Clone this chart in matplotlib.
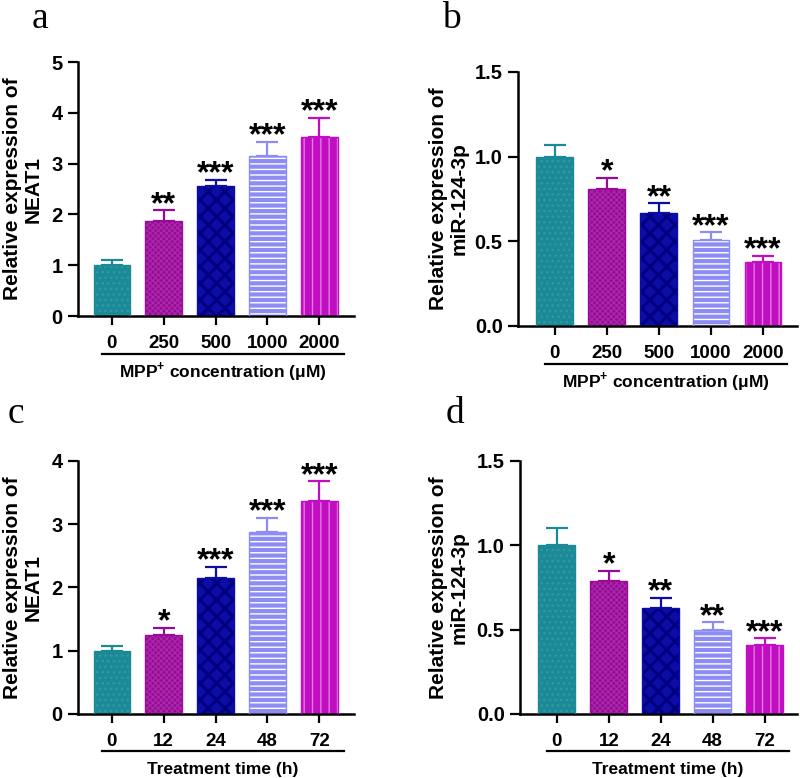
import matplotlib
matplotlib.use('Agg')
import matplotlib.pyplot as plt
import matplotlib.transforms as mtransforms
import numpy as np

plt.rcParams['font.family'] = ['Liberation Sans', 'DejaVu Sans']
plt.rcParams['font.weight'] = 'bold'
plt.rcParams['mathtext.fontset'] = 'custom'
plt.rcParams['mathtext.rm'] = 'Liberation Sans:bold'
plt.rcParams['mathtext.bf'] = 'Liberation Sans:bold'
plt.rcParams['hatch.linewidth'] = 1.0

# data
conc_labels = ['0', '250', '500', '1000', '2000']
time_labels = ['0', '12', '24', '48', '72']

neat1_conc = [1.00, 1.88, 2.55, 3.15, 3.52]
neat1_conc_err = [0.10, 0.20, 0.13, 0.28, 0.38]
neat1_conc_sig = ['', '**', '***', '***', '***']

mir_conc = [1.00, 0.81, 0.67, 0.51, 0.38]
mir_conc_err = [0.07, 0.065, 0.055, 0.045, 0.035]
mir_conc_sig = ['', '*', '**', '***', '***']

neat1_time = [1.00, 1.25, 2.15, 2.88, 3.37]
neat1_time_err = [0.07, 0.11, 0.18, 0.22, 0.31]
neat1_time_sig = ['', '*', '***', '***', '***']

mir_time = [1.00, 0.79, 0.63, 0.50, 0.41]
mir_time_err = [0.10, 0.06, 0.06, 0.045, 0.04]
mir_time_sig = ['', '*', '**', '**', '***']

face_colors = ['#1c8a96', '#990a99', '#0c0ca6', '#8c8cf4', '#c20ec2']
hatch_colors = ['#2e9aa6', '#a92ca9', '#000080', '#ffffff', '#e27ae2']
hatches = ['...', 'xxxxxx', 'xx', '---', '||']
hatch_widths = [1.0, 0.8, 2.2, 1.0, 1.0]


def draw_panel(ax, vals, errs, sig, labels, ylim, yticks, yfmt, ylabel, xlabel,
               xlim, ylab_x):
    x = np.arange(len(vals))
    for i in range(len(vals)):
        plt.rcParams['hatch.linewidth'] = hatch_widths[i]
        bars = ax.bar(x[i], vals[i], width=0.71, color=face_colors[i],
                      edgecolor=hatch_colors[i], linewidth=0, hatch=hatches[i],
                      zorder=2)
        for b in bars:
            if hasattr(b, 'set_hatch_linewidth'):
                b.set_hatch_linewidth(hatch_widths[i])
        ax.bar(x[i], vals[i], width=0.71, fill=False,
               edgecolor=face_colors[i], linewidth=1.0, zorder=3)
        ax.errorbar(x[i], vals[i], yerr=[[0], [errs[i]]], fmt='none',
                    ecolor=face_colors[i], elinewidth=1.6, capsize=8,
                    capthick=1.6, zorder=1)
        if sig[i]:
            ax.annotate(sig[i], (x[i], vals[i] + errs[i]), xytext=(0, -2),
                        textcoords='offset points', ha='center', va='baseline',
                        fontsize=23, fontweight='bold')

    ax.set_xlim(*xlim)
    ax.set_ylim(*ylim)
    ax.set_yticks(yticks)
    ax.set_yticklabels([yfmt.format(t) for t in yticks], fontsize=14.5)
    ax.set_xticks(x)
    ax.set_xticklabels(labels, fontsize=13.5)
    ax.tick_params(axis='y', length=7, width=1.6, pad=4)
    ax.tick_params(axis='x', length=6.5, width=1.6, pad=7)
    for s in ['top', 'right']:
        ax.spines[s].set_visible(False)
    for s in ['left', 'bottom']:
        ax.spines[s].set_linewidth(1.8)

    trans = mtransforms.blended_transform_factory(ax.transData, ax.transAxes)
    ax.plot([-0.19, 4.47], [-0.148, -0.148], color='black', lw=1.6,
            transform=trans, clip_on=False)
    ax.text(2.14, -0.22, xlabel, transform=trans, ha='center', va='center',
            fontsize=12.5, fontweight='bold')
    ax.text(ylab_x, 0.5, ylabel, transform=ax.transAxes, rotation=90,
            ha='center', va='center', fontsize=15, fontweight='bold',
            multialignment='center', linespacing=1.1)


fig = plt.figure(figsize=(8, 7.78), dpi=100)

ax_a = fig.add_axes([0.0975, 0.5938, 0.345, 0.3265])
ax_b = fig.add_axes([0.6475, 0.5810, 0.3485, 0.3265])
ax_c = fig.add_axes([0.0975, 0.0823, 0.345, 0.3252])
ax_d = fig.add_axes([0.6500, 0.0823, 0.3460, 0.3252])

conc_xlabel = r'MPP$^{+}$ concentration (μM)'
time_xlabel = 'Treatment time (h)'

draw_panel(ax_a, neat1_conc, neat1_conc_err, neat1_conc_sig, conc_labels,
           (0, 5), [0, 1, 2, 3, 4, 5], '{:.0f}',
           'Relative expression of\nNEAT1', conc_xlabel, (-0.654, 4.67), -0.20)
draw_panel(ax_b, mir_conc, mir_conc_err, mir_conc_sig, conc_labels,
           (0, 1.5), [0, 0.5, 1.0, 1.5], '{:.1f}',
           'Relative expression of\nmiR-124-3p', conc_xlabel, (-0.71, 4.65), -0.247)
draw_panel(ax_c, neat1_time, neat1_time_err, neat1_time_sig, time_labels,
           (0, 4), [0, 1, 2, 3, 4], '{:.0f}',
           'Relative expression of\nNEAT1', time_xlabel, (-0.654, 4.67), -0.20)
draw_panel(ax_d, mir_time, mir_time_err, mir_time_sig, time_labels,
           (0, 1.5), [0, 0.5, 1.0, 1.5], '{:.1f}',
           'Relative expression of\nmiR-124-3p', time_xlabel, (-0.71, 4.62), -0.256)

for letter, fx, fy in [('a', 0.040, 0.964), ('b', 0.5525, 0.964),
                       ('c', 0.009, 0.4563), ('d', 0.5575, 0.4563)]:
    fig.text(fx, fy, letter, family='Liberation Serif', fontweight='normal',
             fontsize=27, va='baseline', ha='left')

fig.savefig('out.png', dpi=100)
